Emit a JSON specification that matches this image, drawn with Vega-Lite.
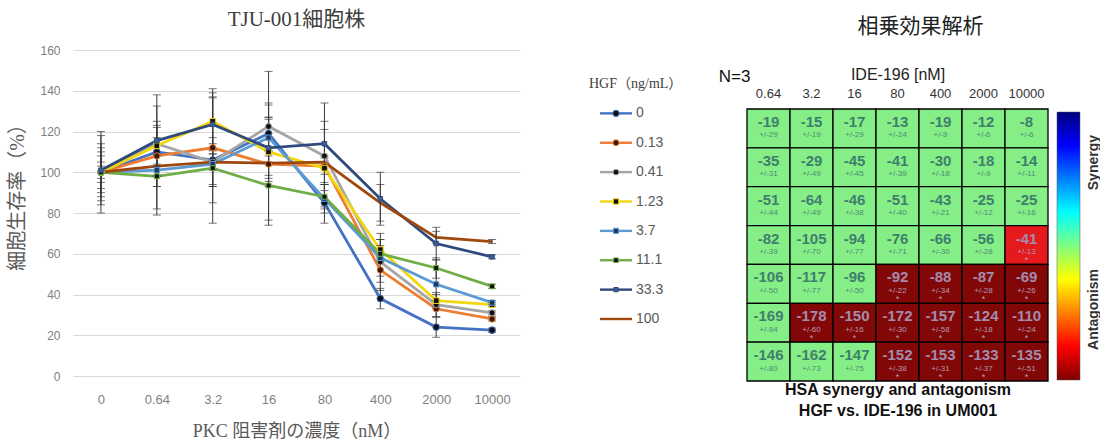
{
  "$schema": "https://vega.github.io/schema/vega-lite/v6.json",
  "background": "white",
  "padding": {"left": 7, "top": 9, "right": 0, "bottom": 0},
  "autosize": {"type": "pad"},
  "spacing": 0,
  "bounds": "flush",
  "config": {"view": {"stroke": null}},
  "resolve": {"scale": {"x": "independent", "y": "independent", "color": "independent", "fill": "independent", "stroke": "independent", "shape": "independent", "size": "independent"}},
  "datasets": {
    "surv": [
      {"hgf": "0", "pkc": "0", "v": 100, "err": 20}, {"hgf": "0", "pkc": "0.64", "v": 110, "err": 28}, {"hgf": "0", "pkc": "3.2", "v": 106, "err": 31}, {"hgf": "0", "pkc": "16", "v": 119, "err": 14}, {"hgf": "0", "pkc": "80", "v": 85, "err": 10}, {"hgf": "0", "pkc": "400", "v": 38, "err": 5}, {"hgf": "0", "pkc": "2000", "v": 24, "err": 5}, {"hgf": "0", "pkc": "10000", "v": 22.5, "err": 1},
      {"hgf": "0.13", "pkc": "0", "v": 100, "err": 14}, {"hgf": "0.13", "pkc": "0.64", "v": 108, "err": 15}, {"hgf": "0.13", "pkc": "3.2", "v": 112, "err": 27}, {"hgf": "0.13", "pkc": "16", "v": 104, "err": 30}, {"hgf": "0.13", "pkc": "80", "v": 103, "err": 4}, {"hgf": "0.13", "pkc": "400", "v": 52, "err": 6}, {"hgf": "0.13", "pkc": "2000", "v": 33, "err": 4}, {"hgf": "0.13", "pkc": "10000", "v": 28, "err": 1},
      {"hgf": "0.41", "pkc": "0", "v": 100, "err": 10}, {"hgf": "0.41", "pkc": "0.64", "v": 114, "err": 11}, {"hgf": "0.41", "pkc": "3.2", "v": 105, "err": 12}, {"hgf": "0.41", "pkc": "16", "v": 122.5, "err": 27}, {"hgf": "0.41", "pkc": "80", "v": 108, "err": 17}, {"hgf": "0.41", "pkc": "400", "v": 56, "err": 14}, {"hgf": "0.41", "pkc": "2000", "v": 35, "err": 6}, {"hgf": "0.41", "pkc": "10000", "v": 31, "err": 1},
      {"hgf": "1.23", "pkc": "0", "v": 100, "err": 5}, {"hgf": "1.23", "pkc": "0.64", "v": 113, "err": 9}, {"hgf": "1.23", "pkc": "3.2", "v": 125, "err": 16}, {"hgf": "1.23", "pkc": "16", "v": 110, "err": 17}, {"hgf": "1.23", "pkc": "80", "v": 102, "err": 19}, {"hgf": "1.23", "pkc": "400", "v": 62, "err": 5}, {"hgf": "1.23", "pkc": "2000", "v": 37, "err": 3}, {"hgf": "1.23", "pkc": "10000", "v": 35, "err": 1},
      {"hgf": "3.7", "pkc": "0", "v": 100, "err": 8}, {"hgf": "3.7", "pkc": "0.64", "v": 101, "err": 8}, {"hgf": "3.7", "pkc": "3.2", "v": 104, "err": 10}, {"hgf": "3.7", "pkc": "16", "v": 117, "err": 9}, {"hgf": "3.7", "pkc": "80", "v": 87, "err": 7}, {"hgf": "3.7", "pkc": "400", "v": 58, "err": 9}, {"hgf": "3.7", "pkc": "2000", "v": 45, "err": 12}, {"hgf": "3.7", "pkc": "10000", "v": 36, "err": 1},
      {"hgf": "11.1", "pkc": "0", "v": 100, "err": 12}, {"hgf": "11.1", "pkc": "0.64", "v": 98, "err": 19}, {"hgf": "11.1", "pkc": "3.2", "v": 102, "err": 9}, {"hgf": "11.1", "pkc": "16", "v": 93.5, "err": 17}, {"hgf": "11.1", "pkc": "80", "v": 88, "err": 6}, {"hgf": "11.1", "pkc": "400", "v": 60, "err": 4}, {"hgf": "11.1", "pkc": "2000", "v": 53, "err": 5}, {"hgf": "11.1", "pkc": "10000", "v": 44, "err": 1},
      {"hgf": "33.3", "pkc": "0", "v": 101, "err": 17}, {"hgf": "33.3", "pkc": "0.64", "v": 115.5, "err": 17}, {"hgf": "33.3", "pkc": "3.2", "v": 123.5, "err": 13}, {"hgf": "33.3", "pkc": "16", "v": 112, "err": 15}, {"hgf": "33.3", "pkc": "80", "v": 114, "err": 20}, {"hgf": "33.3", "pkc": "400", "v": 87, "err": 13}, {"hgf": "33.3", "pkc": "2000", "v": 65, "err": 8}, {"hgf": "33.3", "pkc": "10000", "v": 58.5, "err": 1},
      {"hgf": "100", "pkc": "0", "v": 100, "err": 3}, {"hgf": "100", "pkc": "0.64", "v": 103, "err": 5}, {"hgf": "100", "pkc": "3.2", "v": 105, "err": 4}, {"hgf": "100", "pkc": "16", "v": 104.5, "err": 6}, {"hgf": "100", "pkc": "80", "v": 105, "err": 3}, {"hgf": "100", "pkc": "400", "v": 85, "err": 9}, {"hgf": "100", "pkc": "2000", "v": 68, "err": 3}, {"hgf": "100", "pkc": "10000", "v": 66, "err": 1}
    ],
    "series": [{"hgf": "0"}, {"hgf": "0.13"}, {"hgf": "0.41"}, {"hgf": "1.23"}, {"hgf": "3.7"}, {"hgf": "11.1"}, {"hgf": "33.3"}, {"hgf": "100"}],
    "hsa": [
      {"r": "0.13", "c": "0.64", "v": -19, "pm": "+/-29", "k": "n", "s": ""}, {"r": "0.13", "c": "3.2", "v": -15, "pm": "+/-19", "k": "n", "s": ""}, {"r": "0.13", "c": "16", "v": -17, "pm": "+/-29", "k": "n", "s": ""}, {"r": "0.13", "c": "80", "v": -13, "pm": "+/-24", "k": "n", "s": ""}, {"r": "0.13", "c": "400", "v": -19, "pm": "+/-9", "k": "n", "s": ""}, {"r": "0.13", "c": "2000", "v": -12, "pm": "+/-6", "k": "n", "s": ""}, {"r": "0.13", "c": "10000", "v": -8, "pm": "+/-6", "k": "n", "s": ""},
      {"r": "0.41", "c": "0.64", "v": -35, "pm": "+/-31", "k": "n", "s": ""}, {"r": "0.41", "c": "3.2", "v": -29, "pm": "+/-49", "k": "n", "s": ""}, {"r": "0.41", "c": "16", "v": -45, "pm": "+/-45", "k": "n", "s": ""}, {"r": "0.41", "c": "80", "v": -41, "pm": "+/-39", "k": "n", "s": ""}, {"r": "0.41", "c": "400", "v": -30, "pm": "+/-18", "k": "n", "s": ""}, {"r": "0.41", "c": "2000", "v": -18, "pm": "+/-9", "k": "n", "s": ""}, {"r": "0.41", "c": "10000", "v": -14, "pm": "+/-11", "k": "n", "s": ""},
      {"r": "1.23", "c": "0.64", "v": -51, "pm": "+/-44", "k": "n", "s": ""}, {"r": "1.23", "c": "3.2", "v": -64, "pm": "+/-49", "k": "n", "s": ""}, {"r": "1.23", "c": "16", "v": -46, "pm": "+/-38", "k": "n", "s": ""}, {"r": "1.23", "c": "80", "v": -51, "pm": "+/-40", "k": "n", "s": ""}, {"r": "1.23", "c": "400", "v": -43, "pm": "+/-21", "k": "n", "s": ""}, {"r": "1.23", "c": "2000", "v": -25, "pm": "+/-12", "k": "n", "s": ""}, {"r": "1.23", "c": "10000", "v": -25, "pm": "+/-16", "k": "n", "s": ""},
      {"r": "3.7", "c": "0.64", "v": -82, "pm": "+/-39", "k": "n", "s": ""}, {"r": "3.7", "c": "3.2", "v": -105, "pm": "+/-70", "k": "n", "s": ""}, {"r": "3.7", "c": "16", "v": -94, "pm": "+/-77", "k": "n", "s": ""}, {"r": "3.7", "c": "80", "v": -76, "pm": "+/-71", "k": "n", "s": ""}, {"r": "3.7", "c": "400", "v": -66, "pm": "+/-30", "k": "n", "s": ""}, {"r": "3.7", "c": "2000", "v": -56, "pm": "+/-28", "k": "n", "s": ""}, {"r": "3.7", "c": "10000", "v": -41, "pm": "+/-13", "k": "r", "s": "*"},
      {"r": "11.1", "c": "0.64", "v": -106, "pm": "+/-50", "k": "n", "s": ""}, {"r": "11.1", "c": "3.2", "v": -117, "pm": "+/-77", "k": "n", "s": ""}, {"r": "11.1", "c": "16", "v": -96, "pm": "+/-50", "k": "n", "s": ""}, {"r": "11.1", "c": "80", "v": -92, "pm": "+/-22", "k": "d", "s": "*"}, {"r": "11.1", "c": "400", "v": -88, "pm": "+/-34", "k": "d", "s": "*"}, {"r": "11.1", "c": "2000", "v": -87, "pm": "+/-28", "k": "d", "s": "*"}, {"r": "11.1", "c": "10000", "v": -69, "pm": "+/-26", "k": "d", "s": "*"},
      {"r": "33.3", "c": "0.64", "v": -169, "pm": "+/-94", "k": "n", "s": ""}, {"r": "33.3", "c": "3.2", "v": -178, "pm": "+/-60", "k": "d", "s": "*"}, {"r": "33.3", "c": "16", "v": -150, "pm": "+/-16", "k": "d", "s": "*"}, {"r": "33.3", "c": "80", "v": -172, "pm": "+/-30", "k": "d", "s": "*"}, {"r": "33.3", "c": "400", "v": -157, "pm": "+/-58", "k": "d", "s": "*"}, {"r": "33.3", "c": "2000", "v": -124, "pm": "+/-18", "k": "d", "s": "*"}, {"r": "33.3", "c": "10000", "v": -110, "pm": "+/-24", "k": "d", "s": "*"},
      {"r": "100", "c": "0.64", "v": -146, "pm": "+/-80", "k": "n", "s": ""}, {"r": "100", "c": "3.2", "v": -162, "pm": "+/-73", "k": "n", "s": ""}, {"r": "100", "c": "16", "v": -147, "pm": "+/-75", "k": "n", "s": ""}, {"r": "100", "c": "80", "v": -152, "pm": "+/-38", "k": "d", "s": "*"}, {"r": "100", "c": "400", "v": -153, "pm": "+/-31", "k": "d", "s": "*"}, {"r": "100", "c": "2000", "v": -133, "pm": "+/-37", "k": "d", "s": "*"}, {"r": "100", "c": "10000", "v": -135, "pm": "+/-51", "k": "d", "s": "*"}
    ]
  },
  "hconcat": [
    {
      "width": 447,
      "height": 326,
      "title": {"text": "TJU-001細胞株", "font": "Liberation Serif, Noto Sans CJK JP", "fontSize": 21, "fontWeight": "normal", "color": "#404040", "offset": 14},
      "data": {"name": "surv"},
      "encoding": {
        "x": {"field": "pkc", "type": "ordinal", "sort": ["0", "0.64", "3.2", "16", "80", "400", "2000", "10000"], "scale": {"type": "point", "padding": 0.5},
          "axis": {"domain": false, "ticks": false, "labelAngle": 0, "labelColor": "#7f7f7f", "labelFont": "Liberation Sans", "labelFontSize": 13, "labelPadding": 17, "title": "PKC 阻害剤の濃度（nM）", "titleFont": "Liberation Serif, Noto Sans CJK JP", "titleFontSize": 18, "titleFontWeight": "normal", "titleColor": "#595959", "titlePadding": 16}},
        "y": {"field": "v", "type": "quantitative", "scale": {"domain": [0, 160]},
          "axis": {"values": [0, 20, 40, 60, 80, 100, 120, 140, 160], "grid": true, "gridColor": "#d9d9d9", "domain": false, "ticks": false, "labelColor": "#7f7f7f", "labelFont": "Liberation Sans", "labelFontSize": 12, "labelPadding": 13, "title": "細胞生存率（%）", "titleFont": "Liberation Serif, Noto Sans CJK JP", "titleFontSize": 20, "titleFontWeight": "normal", "titleColor": "#595959", "titlePadding": 12, "titleY": 142}}
      },
      "layer": [
        {
          "mark": {"type": "line", "strokeWidth": 2.8},
          "encoding": {
            "color": {"field": "hgf", "type": "nominal", "scale": {"domain": ["0", "0.13", "0.41", "1.23", "3.7", "11.1", "33.3", "100"], "range": ["#4472C4", "#ED7D31", "#A5A5A5", "#F2D70F", "#5B9BD5", "#70AD47", "#2E4A7D", "#9E480E"]}, "legend": null},
            "order": {"value": null}
          }
        },
        {
          "mark": {"type": "errorbar", "ticks": true, "color": "#3b3b3b", "thickness": 1, "size": 8},
          "encoding": {
            "yError": {"field": "err"}
          }
        },
        {
          "transform": [{"filter": "datum.hgf !== '100'"}],
          "mark": {"type": "point", "filled": true, "strokeWidth": 1, "opacity": 1},
          "encoding": {
            "shape": {"field": "hgf", "type": "nominal", "scale": {"domain": ["0", "0.13", "0.41", "1.23", "3.7", "11.1", "33.3"], "range": ["circle", "circle", "circle", "square", "square", "square", "square"]}, "legend": null},
            "fill": {"field": "hgf", "type": "nominal", "scale": {"domain": ["0", "0.13", "0.41", "1.23", "3.7", "11.1", "33.3"], "range": ["#111111", "#3a1a08", "#111111", "#111111", "#1F3864", "#111111", "#3D5F99"]}, "legend": null},
            "stroke": {"field": "hgf", "type": "nominal", "scale": {"domain": ["0", "0.13", "0.41", "1.23", "3.7", "11.1", "33.3"], "range": ["#4472C4", "#ED7D31", "#A5A5A5", "#F2D70F", "#5B9BD5", "#70AD47", "#2E4A7D"]}, "legend": null},
            "size": {"field": "hgf", "type": "nominal", "scale": {"domain": ["0", "0.13", "0.41", "1.23", "3.7", "11.1", "33.3"], "range": [45, 20, 20, 22, 30, 28, 80]}, "legend": null}
          }
        }
      ]
    },
    {
      "width": 227,
      "height": 326,
      "data": {"name": "series"},
      "encoding": {
        "y": {"field": "hgf", "type": "ordinal", "scale": {"type": "point", "domain": ["HGF（ng/mL）", "0", "0.13", "0.41", "1.23", "3.7", "11.1", "33.3", "100"], "range": [34, 269], "padding": 0}, "axis": null}
      },
      "layer": [
        {
          "mark": {"type": "rule", "strokeWidth": 2.4},
          "encoding": {
            "x": {"datum": 0.256, "type": "quantitative", "scale": {"domain": [0, 1], "range": [69, 112]}, "axis": null},
            "x2": {"datum": 1},
            "color": {"field": "hgf", "type": "nominal", "scale": {"domain": ["0", "0.13", "0.41", "1.23", "3.7", "11.1", "33.3", "100"], "range": ["#4472C4", "#ED7D31", "#A5A5A5", "#F2D70F", "#5B9BD5", "#70AD47", "#2E4A7D", "#9E480E"]}, "legend": null}
          }
        },
        {
          "transform": [{"filter": "datum.hgf !== '100'"}],
          "mark": {"type": "point", "filled": true, "strokeWidth": 1, "opacity": 1},
          "encoding": {
            "x": {"datum": 0.628, "type": "quantitative"},
            "shape": {"field": "hgf", "type": "nominal", "scale": {"domain": ["0", "0.13", "0.41", "1.23", "3.7", "11.1", "33.3"], "range": ["circle", "circle", "circle", "square", "square", "square", "square"]}, "legend": null},
            "fill": {"field": "hgf", "type": "nominal", "scale": {"domain": ["0", "0.13", "0.41", "1.23", "3.7", "11.1", "33.3"], "range": ["#111111", "#3a1a08", "#111111", "#111111", "#1F3864", "#111111", "#3D5F99"]}, "legend": null},
            "stroke": {"field": "hgf", "type": "nominal", "scale": {"domain": ["0", "0.13", "0.41", "1.23", "3.7", "11.1", "33.3"], "range": ["#4472C4", "#ED7D31", "#A5A5A5", "#F2D70F", "#5B9BD5", "#70AD47", "#2E4A7D"]}, "legend": null},
            "size": {"field": "hgf", "type": "nominal", "scale": {"domain": ["0", "0.13", "0.41", "1.23", "3.7", "11.1", "33.3"], "range": [40, 18, 18, 22, 28, 26, 60]}, "legend": null}
          }
        },
        {
          "mark": {"type": "text", "align": "left", "dx": 4, "font": "Liberation Sans", "fontSize": 14, "color": "#595959"},
          "encoding": {
            "x": {"datum": 1, "type": "quantitative"},
            "text": {"field": "hgf"}
          }
        },
        {
          "data": {"values": [{"t": "HGF（ng/mL）"}]},
          "mark": {"type": "text", "align": "left", "font": "Liberation Serif, Noto Sans CJK JP", "fontSize": 14, "color": "#404040"},
          "encoding": {
            "x": {"datum": 0, "type": "quantitative"},
            "y": {"datum": "HGF（ng/mL）", "type": "ordinal"},
            "text": {"field": "t"}
          }
        }
      ]
    },
    {
      "width": 301,
      "height": 326,
      "title": {"text": "相乗効果解析", "font": "Liberation Serif, Noto Sans CJK JP", "fontSize": 21, "fontWeight": "normal", "color": "#222222", "offset": 13, "dx": 23},
      "data": {"name": "hsa"},
      "resolve": {"axis": {"x": "independent"}},
      "layer": [
        {
          "mark": {"type": "rect", "stroke": "#000000", "strokeWidth": 1.3},
          "encoding": {
            "x": {"field": "c", "type": "ordinal", "sort": ["0.64", "3.2", "16", "80", "400", "2000", "10000"], "scale": {"type": "band", "paddingInner": 0, "paddingOuter": 0},
              "axis": {"orient": "top", "offset": -59, "domain": false, "ticks": false, "labelAngle": 0, "labelPadding": 9, "labelFont": "Liberation Sans", "labelFontSize": 13, "labelColor": "#333333", "title": "IDE-196 [nM]", "titleFont": "Liberation Sans", "titleFontSize": 16, "titleFontWeight": "normal", "titleColor": "#222222", "titlePadding": 5}},
            "y": {"field": "r", "type": "ordinal", "sort": ["0.13", "0.41", "1.23", "3.7", "11.1", "33.3", "100"], "scale": {"type": "band", "range": [59, 331], "paddingInner": 0, "paddingOuter": 0},
              "axis": {"domain": false, "ticks": false, "labelPadding": 5, "labelFont": "Liberation Sans", "labelFontSize": 14, "labelColor": "#333333", "title": "HGF [ng/mL]", "titleFont": "Liberation Sans", "titleFontSize": 17, "titleFontWeight": "normal", "titleColor": "#222222", "titlePadding": 7}},
            "color": {"field": "k", "type": "nominal", "scale": {"domain": ["n", "r", "d"], "range": ["#86EE86", "#E41A1C", "#820808"]}, "legend": null}
          }
        },
        {
          "mark": {"type": "text", "font": "Liberation Sans", "fontSize": 15, "fontWeight": "bold", "dy": -6.5},
          "encoding": {
            "x": {"field": "c", "type": "ordinal", "sort": ["0.64", "3.2", "16", "80", "400", "2000", "10000"],
              "axis": {"orient": "bottom", "offset": 5, "labels": false, "domain": false, "ticks": false, "title": ["HSA synergy and antagonism", "HGF vs. IDE-196 in UM001"], "titleFont": "Liberation Sans", "titleFontSize": 16, "titleFontWeight": "bold", "titleColor": "#111111", "titlePadding": 0, "titleLineHeight": 21}},
            "y": {"field": "r", "type": "ordinal", "sort": ["0.13", "0.41", "1.23", "3.7", "11.1", "33.3", "100"], "axis": null},
            "text": {"field": "v"},
            "color": {"condition": {"test": "datum.k === 'n'", "value": "#3f7f6d"}, "value": "#a48cae"}
          }
        },
        {
          "mark": {"type": "text", "font": "Liberation Sans", "fontSize": 8, "dy": 7},
          "encoding": {
            "x": {"field": "c", "type": "ordinal", "sort": ["0.64", "3.2", "16", "80", "400", "2000", "10000"], "axis": null},
            "y": {"field": "r", "type": "ordinal", "sort": ["0.13", "0.41", "1.23", "3.7", "11.1", "33.3", "100"], "axis": null},
            "text": {"field": "pm"},
            "color": {"condition": {"test": "datum.k === 'n'", "value": "#4c8a78"}, "value": "#b89ab0"}
          }
        },
        {
          "mark": {"type": "text", "font": "Liberation Sans", "fontSize": 9, "dy": 15, "color": "#b89ab0"},
          "encoding": {
            "x": {"field": "c", "type": "ordinal", "sort": ["0.64", "3.2", "16", "80", "400", "2000", "10000"], "axis": null},
            "y": {"field": "r", "type": "ordinal", "sort": ["0.13", "0.41", "1.23", "3.7", "11.1", "33.3", "100"], "axis": null},
            "text": {"field": "s"}
          }
        },
        {
          "data": {"values": [{"t": "N=3"}]},
          "mark": {"type": "text", "font": "Liberation Sans", "fontSize": 17, "color": "#111111", "dx": -34, "dy": -51},
          "encoding": {
            "x": {"datum": "0.64", "type": "ordinal", "axis": null},
            "y": {"datum": "0.13", "type": "ordinal", "axis": null},
            "text": {"field": "t"}
          }
        }
      ]
    },
    {
      "width": 32,
      "height": 326,
      "data": {"values": [{"id": 1}]},
      "mark": {"type": "rect", "stroke": "#555555", "strokeWidth": 0.5,
        "color": {"gradient": "linear", "x1": 0, "y1": 0, "x2": 0, "y2": 1,
          "stops": [
            {"offset": 0, "color": "#00007F"},
            {"offset": 0.125, "color": "#0000FF"},
            {"offset": 0.375, "color": "#00FFFF"},
            {"offset": 0.5, "color": "#7FFF7F"},
            {"offset": 0.625, "color": "#FFFF00"},
            {"offset": 0.875, "color": "#FF0000"},
            {"offset": 1, "color": "#7F0000"}
          ]}},
      "encoding": {
        "x": {"datum": 0, "type": "quantitative", "scale": {"domain": [0, 1], "range": [9, 32]}, "axis": null},
        "x2": {"datum": 1},
        "y": {"datum": 0, "type": "quantitative", "scale": {"domain": [0, 1], "range": [330, 62]},
          "axis": {"orient": "right", "values": [0.813, 0.265], "labelExpr": "datum.value > 0.5 ? 'Synergy' : 'Antagonism'", "labelAngle": 270, "domain": false, "ticks": false, "grid": false, "labelFont": "Liberation Sans", "labelFontSize": 14, "labelFontWeight": "bold", "labelColor": "#333333", "labelPadding": 6, "title": null}},
        "y2": {"datum": 1}
      }
    }
  ]
}
